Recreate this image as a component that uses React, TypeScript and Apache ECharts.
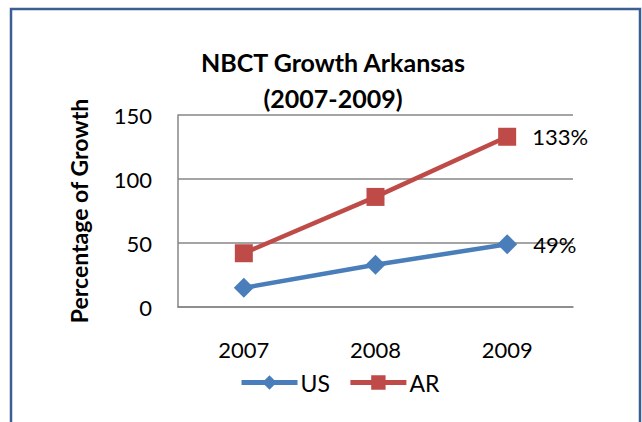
import React, { useEffect, useRef } from "react";
import * as echarts from "echarts";

const categories = ["2007", "2008", "2009"];
const usValues = [15, 33, 49];
const arValues = [42, 86, 133];
const usLabel = "49%";
const arLabel = "133%";
const yTicks = [0, 50, 100, 150];

const FONT = "Lato, 'Open Sans', sans-serif";

export default function App() {
  const ref = useRef<HTMLDivElement>(null);
  useEffect(() => {
    if (!ref.current) return;
    const chart = echarts.init(ref.current, null, { renderer: "svg" });
    const lastLabel = (txt: string) => ({
      show: true,
      position: "right",
      distance: 16,
      color: "#000",
      fontSize: 22,
      fontFamily: FONT,
      formatter: (p: any) => (p.dataIndex === categories.length - 1 ? txt : ""),
    });
    chart.setOption({
      animation: false,
      backgroundColor: "#fff",
      textStyle: { fontFamily: FONT },
      title: {
        text: "NBCT Growth Arkansas\n(2007-2009)",
        left: 328,
        top: 39,
        textAlign: "center",
        textStyle: { fontSize: 25, fontWeight: "bold", color: "#000", lineHeight: 36, fontFamily: FONT },
      },
      graphic: [
        {
          type: "rect",
          shape: { x: 11, y: 9, width: 629, height: 430 },
          style: { fill: "none", stroke: "#3B5F94", lineWidth: 2.5 },
          silent: true,
        },
      ],
      legend: {
        top: 366,
        left: 234,
        itemWidth: 56,
        itemHeight: 18,
        itemGap: 18,
        lineStyle: { width: 5 },
        textStyle: { fontSize: 23, color: "#000", fontFamily: FONT, padding: [0, 0, 0, -2] },
        data: ["US", "AR"],
      },
      grid: { left: 178, right: 69, top: 115, bottom: 115 },
      xAxis: {
        type: "category",
        data: categories,
        boundaryGap: true,
        axisLine: { show: true, lineStyle: { color: "#868686", width: 1.5 } },
        axisTick: { show: false },
        axisLabel: { fontSize: 22, color: "#000", margin: 31, fontFamily: FONT },
        splitLine: { show: false },
      },
      yAxis: {
        type: "value",
        min: yTicks[0],
        max: yTicks[yTicks.length - 1],
        interval: 50,
        name: "Percentage of Growth",
        nameLocation: "middle",
        nameGap: 88,
        nameTextStyle: { fontSize: 23, fontWeight: "bold", color: "#000", fontFamily: FONT },
        axisLine: { show: true, lineStyle: { color: "#868686", width: 1.5 } },
        axisTick: { show: false },
        axisLabel: { fontSize: 22, color: "#000", margin: 26, fontFamily: FONT },
        splitLine: { show: true, lineStyle: { color: "#868686", width: 1.5 } },
      },
      series: [
        {
          name: "US",
          type: "line",
          data: usValues,
          symbol: "diamond",
          symbolSize: 20,
          color: "#4A7EBB",
          lineStyle: { width: 4.5, color: "#4A7EBB" },
          itemStyle: { color: "#4A7EBB" },
          label: lastLabel(usLabel),
        },
        {
          name: "AR",
          type: "line",
          data: arValues,
          symbol: "rect",
          symbolSize: 18,
          color: "#BE4B48",
          lineStyle: { width: 4.5, color: "#BE4B48" },
          itemStyle: { color: "#BE4B48" },
          label: lastLabel(arLabel),
        },
      ],
    });
    return () => chart.dispose();
  }, []);
  return (
    <div
      ref={ref}
      style={{ position: "fixed", left: 0, top: 0, width: 642, height: 422 }}
    />
  );
}
